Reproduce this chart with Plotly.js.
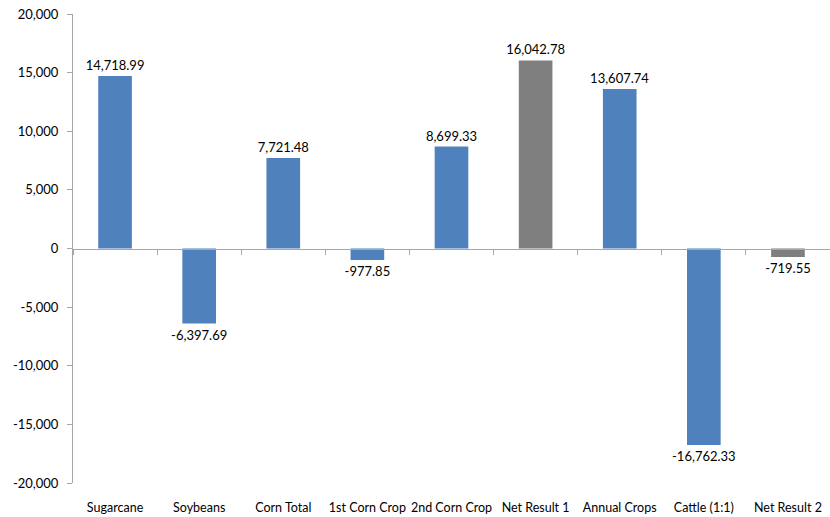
<!DOCTYPE html>
<html>
<head>
<meta charset="utf-8">
<script src="https://cdn.plot.ly/plotly-3.0.1.min.js"></script>
<style>
  html, body { margin: 0; padding: 0; background: #fff; }
  #chart { width: 830px; height: 517px; }
</style>
</head>
<body>
<div id="chart"></div>
<script>
// Categories and results
const categories = ["Sugarcane", "Soybeans", "Corn Total", "1st Corn Crop", "2nd Corn Crop",
                    "Net Result 1", "Annual Crops", "Cattle (1:1)", "Net Result 2"];
const values = [14718.99, -6397.69, 7721.48, -977.85, 8699.33, 16042.78, 13607.74, -16762.33, -719.55];
const isNetResult = [false, false, false, false, false, true, false, false, true];

// Y axis ticks
const yTickVals = [-20000, -15000, -10000, -5000, 0, 5000, 10000, 15000, 20000];
const yTickText = ["-20,000", "-15,000", "-10,000", "-5,000", "0", "5,000", "10,000", "15,000", "20,000"];

const BLUE = "#4F81BD";
const GRAY = "#7F7F7F";
const FONT = "Lato, 'Open Sans', sans-serif";

function fmt(v) {
  const s = Math.abs(v).toLocaleString("en-US", { minimumFractionDigits: 2, maximumFractionDigits: 2 });
  return (v < 0 ? "-" : "") + s;
}

const bars = {
  type: "bar",
  x: categories,
  y: values,
  marker: { color: isNetResult.map(n => n ? GRAY : BLUE), line: { width: 0 } },
  text: values.map(fmt),
  textposition: "outside",
  constraintext: "none",
  cliponaxis: false,
  textfont: { family: FONT, size: 13, color: "#000" },
  hoverinfo: "x+y",
  xaxis: "x",
  yaxis: "y"
};

// Invisible companion trace that carries the zero-line axis
const zeroAxisTrace = {
  type: "bar",
  x: categories,
  y: categories.map(() => 0),
  marker: { color: "rgba(0,0,0,0)" },
  hoverinfo: "skip",
  showlegend: false,
  xaxis: "x2",
  yaxis: "y"
};

const layout = {
  width: 830,
  height: 517,
  margin: { l: 73, r: 0, t: 14, b: 34 },
  paper_bgcolor: "#fff",
  plot_bgcolor: "#fff",
  showlegend: false,
  bargap: 0.6,
  barmode: "overlay",
  font: { family: FONT, size: 13, color: "#000" },
  xaxis: {
    type: "category",
    showline: false,
    showgrid: false,
    zeroline: false,
    ticks: "",
    tickangle: 0,
    ticklabelstandoff: 15,
    tickfont: { family: FONT, size: 12.5, color: "#000" },
    fixedrange: true
  },
  xaxis2: {
    type: "category",
    overlaying: "x",
    matches: "x",
    anchor: "free",
    position: 0.5,
    side: "bottom",
    showline: true,
    linecolor: "#A6A6A6",
    linewidth: 1,
    ticks: "outside",
    tickson: "boundaries",
    ticklen: 5,
    tickcolor: "#A6A6A6",
    showticklabels: false,
    showgrid: false,
    zeroline: false
  },
  yaxis: {
    range: [-20000, 20000],
    tickvals: yTickVals,
    ticktext: yTickText,
    showline: true,
    linecolor: "#A6A6A6",
    linewidth: 1,
    ticks: "outside",
    ticklen: 5,
    tickcolor: "#A6A6A6",
    ticklabelstandoff: 6,
    showgrid: false,
    zeroline: false,
    tickfont: { family: FONT, size: 13, color: "#000" },
    fixedrange: true
  }
};

Plotly.newPlot("chart", [bars, zeroAxisTrace], layout, { displayModeBar: false, staticPlot: true });
</script>
</body>
</html>
